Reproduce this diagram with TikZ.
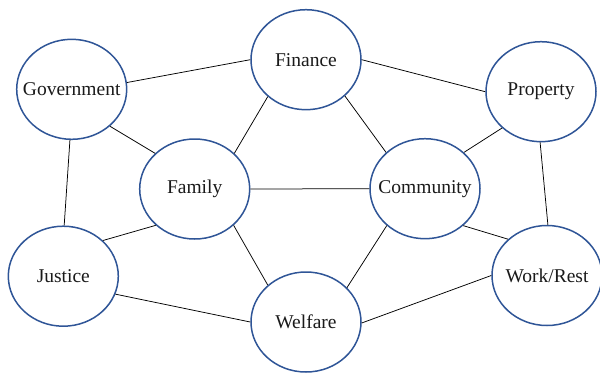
\documentclass[tikz,border=0pt]{standalone}
\usepackage{fontspec}
\setmainfont{Liberation Serif}
\usetikzlibrary{shapes.geometric}
\definecolor{ringblue}{HTML}{2F5597}
\definecolor{inktext}{HTML}{1A1A1A}
\tikzset{
  topic/.style={ellipse, draw=ringblue, line width=1.5pt, fill=white,
    minimum width=110pt, minimum height=100pt, inner xsep=-25pt, inner ysep=0pt,
    text=inktext, font=\fontsize{19.5}{21}\selectfont},
  link/.style={draw=black, line width=0.75pt}
}
\begin{document}
\begin{tikzpicture}[x=1pt, y=-1pt]
  \useasboundingbox (0,0) rectangle (600,373);
  % topics
  \node[topic] (gov)  at (71.7, 89.3)  {Government};
  \node[topic] (fin)  at (306, 59.7)   {Finance};
  \node[topic] (prop) at (541, 91.7)   {Property};
  \node[topic] (fam)  at (194.7, 189)  {Family};
  \node[topic] (com)  at (425, 188.7)  {Community};
  \node[topic] (jus)  at (63.3, 276.2) {Justice};
  \node[topic] (wel)  at (306, 322)    {Welfare};
  \node[topic] (work) at (547, 275.5)  {Work/Rest};
  % links between topics
  \draw[link] (gov.7)    -- (fin.180);
  \draw[link] (gov.-44)  -- (fam.138);
  \draw[link] (gov.-92)  -- (jus.89);
  \draw[link] (fin.0)    -- (prop.180);
  \draw[link] (fin.224)  -- (fam.42);
  \draw[link] (fin.-43)  -- (com.137);
  \draw[link] (prop.223) -- (com.43);
  \draw[link] (prop.-91) -- (work.89);
  \draw[link] (fam.0)    -- (com.180);
  \draw[link] (fam.223)  -- (jus.42);
  \draw[link] (fam.-43)  -- (wel.136);
  \draw[link] (com.224)  -- (wel.40);
  \draw[link] (com.-44)  -- (work.137);
  \draw[link] (jus.-19)  -- (wel.180);
  \draw[link] (wel.-1)   -- (work.180);
\end{tikzpicture}
\end{document}
